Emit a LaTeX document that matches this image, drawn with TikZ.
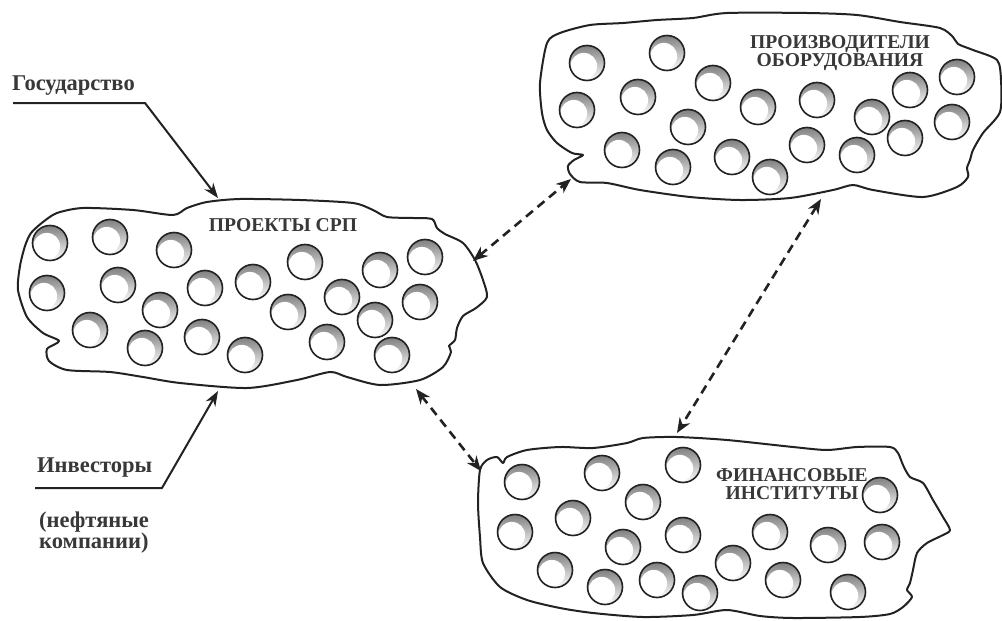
\documentclass[tikz,border=0pt]{standalone}
\usepackage{fontspec}
\setmainfont{Liberation Serif}
\usetikzlibrary{arrows.meta}
\definecolor{ink}{HTML}{222222}
\definecolor{txt}{HTML}{383838}
\definecolor{shade}{HTML}{5C5C5C}
\tikzset{
  blob/.style={draw=ink, line width=2pt, fill=white, line join=round},
  holering/.style={draw=ink, line width=1.6pt},
  hole/.pic={
    \fill[shade] (0,0) circle (17.5pt);
    \fill[white] (-3.2,3.2) circle (13.3pt);
    \draw[holering] (0,0) circle (17.5pt);
  },
  lbl/.style={font=\fontsize{22.5}{22}\selectfont\bfseries, text=txt, inner sep=0pt},
  caplbl/.style={font=\fontsize{19.6}{18.5}\selectfont\bfseries, text=txt, inner sep=0pt, align=center},
  arr/.style={draw=ink, line width=2pt, line join=round, -{Stealth[length=15pt,width=11pt]}},
  darr/.style={draw=ink, line width=2.6pt, dash pattern=on 9pt off 6pt,
    {Stealth[length=15pt,width=12pt]}-{Stealth[length=15pt,width=12pt]}}
}
\begin{document}
\begin{tikzpicture}[x=1pt,y=-1pt]
\useasboundingbox (0,0) rectangle (1002,621);
\fill[white] (0,0) rectangle (1002,621);

% ---------- left blob: ПРОЕКТЫ СРП
\draw[blob] plot[smooth cycle, tension=0.45] coordinates {
 (43,222) (57,213) (83,208) (133,210) (173,215) (187,208) (207,202) (240,199)
 (300,200) (353,203) (373,210) (387,217) (413,218) (432,219) (437,228) (445,234)
 (463,243) (475,260) (483,280) (487,297) (476,308) (463,316) (457,328) (455,340)
 (449,346) (451,352) (443,367) (420,380) (380,385) (347,377) (330,372) (297,380)
 (247,388) (180,383) (143,377) (110,372) (67,370) (49,361) (47,349) (59,341)
 (43,333) (27,317) (18,290) (20,266) (25,246) (31,233)};
\foreach \p in {(50,243),(110,237),(174,250),(305,262),(380,270),(425,257),
                (47,293),(118,285),(205,288),(253,282),(342,297),(420,302),
                (160,310),(288,312),(375,320),
                (90,330),(145,348),(202,337),(245,355),(327,342),(392,355)}
  \pic at \p {hole};
\node[caplbl] (srp) at (283,225) {ПРОЕКТЫ СРП};

% ---------- top-right blob: ПРОИЗВОДИТЕЛИ ОБОРУДОВАНИЯ
\draw[blob] plot[smooth cycle, tension=0.45] coordinates {
 (547,43) (560,33) (590,25) (623,23) (657,20) (693,18) (727,13) (807,13)
 (857,15) (900,22) (940,28) (953,37) (958,44) (973,50) (997,60) (1001,80)
 (1000,112) (983,133) (973,150) (970,160) (967,168) (968,177) (957,187) (923,197)
 (873,190) (853,185) (833,190) (790,198) (740,200) (690,197) (640,190) (607,183)
 (580,182) (570,174) (568,166) (574,160) (583,155) (572,153) (557,143) (547,130)
 (542,113) (540,83)};
\foreach \p in {(587,63),(667,53),(713,83),(638,97),(577,110),(688,127),
                (758,107),(817,100),(872,117),(910,90),(957,77),(952,122),
                (905,138),(857,155),(807,145),(770,177),(732,157),(673,167),(622,150)}
  \pic at \p {hole};
\node[caplbl] (eq) at (840,53) {ПРОИЗВОДИТЕЛИ\\ОБОРУДОВАНИЯ};

% ---------- bottom-right blob: ФИНАНСОВЫЕ ИНСТИТУТЫ
\draw[blob] plot[smooth cycle, tension=0.45] coordinates {
 (480,470) (487,460) (497,457) (503,463) (507,457) (527,450) (560,447) (593,448)
 (627,443) (643,438) (677,437) (727,440) (793,447) (827,450) (857,447) (890,447)
 (898,453) (903,465) (910,477) (923,483) (933,500) (943,517) (950,530) (943,535)
 (927,543) (917,553) (913,570) (910,583) (907,590) (912,597) (903,607) (890,614)
 (860,617) (793,618) (760,616) (727,610) (693,615) (643,617) (593,613) (560,608)
 (527,600) (500,587) (483,563) (480,537) (478,503)};
\foreach \p in {(522,482),(602,473),(683,465),(643,502),(573,518),(515,532),
                (623,547),(683,535),(770,532),(828,545),(882,542),(880,495),
                (733,563),(555,570),(605,587),(657,580),(700,593),(783,580),(848,592)}
  \pic at \p {hole};
\node[caplbl] (fin) at (792,484) {ФИНАНСОВЫЕ\\ИНСТИТУТЫ};

% ---------- outside labels
\node[lbl, anchor=base west] (gos) at (12,90) {Государство};
\node[lbl, anchor=base west] (inv) at (37,472) {Инвесторы};
\node[lbl, anchor=base west] (oil1) at (39,527) {(нефтяные};
\node[lbl, anchor=base west] (oil2) at (39,548) {компании)};

% ---------- attachment points
\coordinate (gosL) at (13,103);
\coordinate (gosR) at (145,103);
\coordinate (gosTip) at (218,198);
\coordinate (invL) at (35,488);
\coordinate (invR) at (162,488);
\coordinate (invTip) at (218,391);
\coordinate (srpNE) at (473,261);
\coordinate (eqSW) at (571,179);
\coordinate (srpSE) at (416,389);
\coordinate (finNW) at (481,471);
\coordinate (eqS) at (821,199);
\coordinate (finN) at (677,433);

% ---------- connectors
\draw[arr] (gosL) -- (gosR) -- (gosTip);
\draw[arr] (invL) -- (invR) -- (invTip);
\draw[darr] (srpNE) -- (eqSW);
\draw[darr] (srpSE) -- (finNW);
\draw[darr] (eqS) -- (finN);
\end{tikzpicture}
\end{document}
